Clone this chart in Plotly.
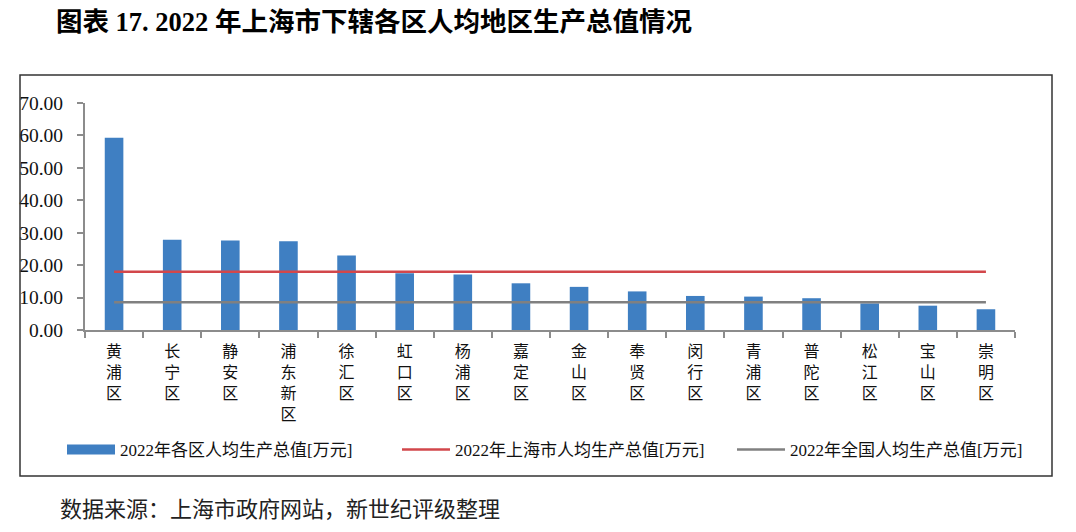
import plotly.graph_objects as go

# ---- data ----
districts = ["黄浦区", "长宁区", "静安区", "浦东新区", "徐汇区", "虹口区", "杨浦区", "嘉定区",
             "金山区", "奉贤区", "闵行区", "青浦区", "普陀区", "松江区", "宝山区", "崇明区"]
district_gdp_pc = [59.3, 27.8, 27.6, 27.4, 23.0, 17.5, 17.1, 14.4,
                   13.3, 11.9, 10.5, 10.3, 9.8, 8.2, 7.5, 6.4]
shanghai_avg = 17.99
national_avg = 8.57

name_bar = "2022年各区人均生产总值[万元]"
name_sh = "2022年上海市人均生产总值[万元]"
name_cn = "2022年全国人均生产总值[万元]"
title_text = "图表 17. 2022 年上海市下辖各区人均地区生产总值情况"
source_text = "数据来源：上海市政府网站，新世纪评级整理"
y_ticks = [0, 10, 20, 30, 40, 50, 60, 70]

W, H = 1076, 532
BAR_COLOR = "#3F7FC2"
RED = "#D2474B"
GRAY = "#808080"
SERIF = "Liberation Serif, Noto Sans CJK SC"
CJK = "Noto Sans CJK SC"

def px(x):
    return x / W

def py(y):
    return 1 - y / H

labels = ["<br>".join(list(d)) for d in districts]

fig = go.Figure()
fig.add_trace(go.Bar(x=labels, y=district_gdp_pc, marker=dict(color=BAR_COLOR, line=dict(width=0)),
                     width=0.32, name=name_bar, showlegend=False))
fig.add_trace(go.Scatter(x=labels, y=[shanghai_avg] * len(labels), mode="lines",
                         line=dict(color=RED, width=2.5), name=name_sh, showlegend=False))
fig.add_trace(go.Scatter(x=labels, y=[national_avg] * len(labels), mode="lines",
                         line=dict(color=GRAY, width=2.5), name=name_cn, showlegend=False))
# legend entries (bar entry drawn as wide block like the reference)
fig.add_trace(go.Scatter(x=[None], y=[None], mode="lines", line=dict(color=BAR_COLOR, width=10),
                         name=name_bar))
fig.add_trace(go.Scatter(x=[None], y=[None], mode="lines", line=dict(color=RED, width=2.5),
                         name=name_sh))
fig.add_trace(go.Scatter(x=[None], y=[None], mode="lines", line=dict(color=GRAY, width=2.5),
                         name=name_cn))

fig.update_layout(
    width=W, height=H,
    margin=dict(l=0, r=0, t=0, b=0, autoexpand=False),
    paper_bgcolor="white", plot_bgcolor="white",
    showlegend=True,
    legend=dict(orientation="h", x=px(62), xanchor="left", y=py(450), yanchor="middle",
                font=dict(family=SERIF, size=17, color="#111"), itemwidth=48,
                entrywidth=272, entrywidthmode="pixels",
                bgcolor="rgba(0,0,0,0)"),
    title=dict(text="<b>" + title_text + "</b>", x=px(56), xanchor="left", xref="paper",
               y=py(22), yanchor="middle", yref="paper",
               font=dict(family=SERIF, size=26.5, color="#000")),
    xaxis=dict(domain=[px(85), px(1015)], showline=True, linecolor="#8C8C8C", linewidth=2,
               ticks="outside", tickson="boundaries", ticklen=6, tickcolor="#8C8C8C", tickwidth=2,
               tickfont=dict(family=CJK, size=16, color="#111"), tickangle=0, automargin=False,
               ticklabelstandoff=6,
               showgrid=False, zeroline=False, fixedrange=True),
    yaxis=dict(domain=[py(330), py(103)], range=[0, 70], tickvals=y_ticks,
               ticktext=[f"{v:.2f}" for v in y_ticks], automargin=False,
               showline=True, linecolor="#8C8C8C", linewidth=2,
               ticks="outside", ticklen=6, tickcolor="#8C8C8C", tickwidth=2,
               tickfont=dict(family=SERIF, size=19.5, color="#111"), ticklabelstandoff=10,
               showgrid=False, zeroline=False, fixedrange=True),
    shapes=[dict(type="rect", xref="paper", yref="paper", x0=px(20), x1=px(1052),
                 y0=py(476), y1=py(75), line=dict(color="#333", width=1.5))],
    annotations=[dict(text=source_text, x=px(58), y=py(507), xref="paper", yref="paper",
                      xanchor="left", yanchor="middle", showarrow=False,
                      font=dict(family=CJK, size=22, color="#222"))],
)

fig.write_html("out.html", config={"displayModeBar": False},
               post_script="document.body.style.margin='0';")
